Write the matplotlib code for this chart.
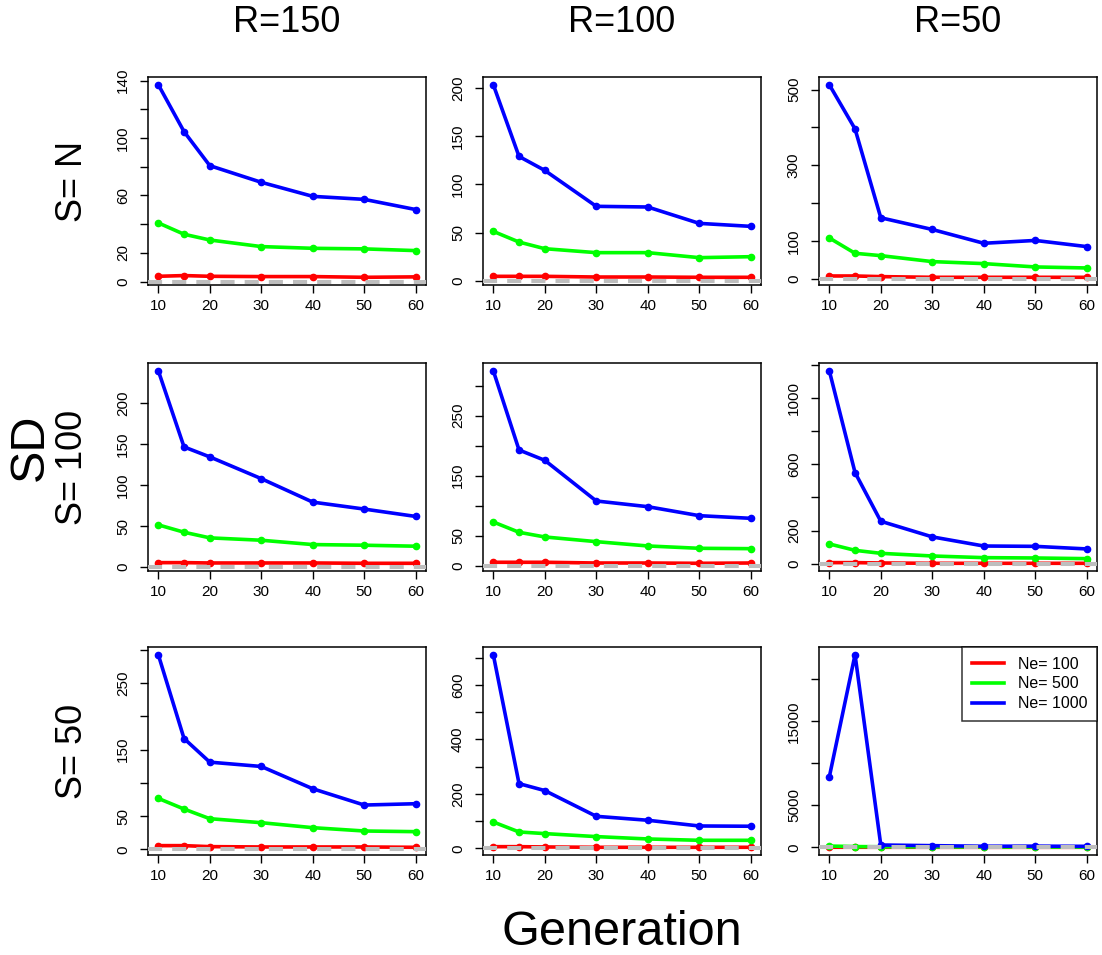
import numpy as np
import matplotlib
matplotlib.use("Agg")
import matplotlib.pyplot as plt

plt.rcParams['font.family'] = ['Liberation Sans', 'DejaVu Sans']

gens = [10, 15, 20, 30, 40, 50, 60]
col_titles = ["R=150", "R=100", "R=50"]
row_titles = ["S= N", "S= 100", "S= 50"]
legend_labels = ["Ne= 100", "Ne= 500", "Ne= 1000"]

# rows: S = N, 100, 50 ; cols: R = 150, 100, 50
ne100 = [
    [[3.7, 4.2, 3.7, 3.5, 3.5, 3.0, 3.3],
     [4.5, 4.5, 4.5, 3.8, 3.8, 3.5, 3.5],
     [7, 7, 5.3, 3.5, 3.5, 3.5, 3.5]],
    [[5.3, 5.3, 4.9, 4.9, 4.9, 4.5, 4.5],
     [5.6, 5.6, 5.6, 4.4, 4.4, 3.9, 4.4],
     [8, 8, 6, 4, 4, 4, 4]],
    [[5.5, 5.5, 4, 3.5, 3.5, 3.5, 3],
     [6, 6, 5, 3.7, 3.7, 3.7, 3.7],
     [10, 8, 6, 4, 4, 4, 4]],
]
ne500 = [
    [[40.9, 33.0, 29.0, 24.4, 23.2, 22.8, 21.6],
     [51.2, 40.1, 33.2, 29.1, 29.1, 23.9, 24.9],
     [107.6, 67, 60.8, 45, 39.7, 30.9, 28.2]],
    [[51.5, 42.5, 35.6, 32.7, 27.4, 26.6, 25.4],
     [72.8, 55.6, 47.8, 40, 32.8, 28.9, 28.3],
     [120.5, 82, 64, 48, 38, 36, 32]],
    [[76.5, 60.5, 46, 40, 32.5, 27.5, 26.5],
     [96.7, 60, 54, 43, 34.3, 29.4, 29.4],
     [150, 90, 70, 50, 40, 35, 30]],
]
ne1000 = [
    [[137.2, 104.5, 80.8, 69.2, 59.4, 57.3, 50.2],
     [203.5, 129, 114.5, 77.2, 76.5, 59.5, 56.4],
     [513, 396, 161, 130, 93.5, 101, 84.7]],
    [[240, 146.8, 134.6, 108, 79.3, 70.8, 61.8],
     [325, 192.8, 175.6, 107.8, 98.3, 83.3, 78.9],
     [1163, 550, 257, 163, 108, 106, 90.4]],
    [[292.5, 166.5, 131, 124.5, 91, 66.5, 68.5],
     [711, 237.5, 212, 117.5, 103, 82, 81],
     [8373, 22937, 278, 198, 130, 140, 120]],
]

# y tick step and labels (R drops labels that would overlap)
ytick_step = [[20, 50, 100], [50, 50, 200], [50, 100, 5000]]
ytick_labels = [
    [['0', '20', '', '60', '', '100', '', '140'],
     ['0', '50', '100', '150', '200'],
     ['0', '100', '', '300', '', '500']],
    [['0', '50', '100', '150', '200'],
     ['0', '50', '', '150', '', '250', ''],
     ['0', '200', '', '600', '', '1000', '']],
    [['0', '50', '', '150', '', '250', ''],
     ['0', '', '200', '', '400', '', '600', ''],
     ['0', '5000', '', '15000', '']],
]
xticks = [10, 20, 30, 40, 50, 60]

W, H = 1102, 955
fig = plt.figure(figsize=(W / 100, H / 100), dpi=100)

lefts = [148, 483, 819]
tops = [77, 363, 647]
pw, ph = 278, 208
colors = ['#FF0000', '#00FF00', '#0000FF']

for i in range(3):
    for j in range(3):
        ax = fig.add_axes([lefts[j] / W, 1 - (tops[i] + ph) / H, pw / W, ph / H])
        series = [ne100[i][j], ne500[i][j], ne1000[i][j]]
        for s, c, lab in zip(series, colors, legend_labels):
            ax.plot(gens, s, color=c, lw=2.6, marker='o', ms=4.5, label=lab, zorder=3)
        ax.axhline(0, color='#BEBEBE', lw=2.9, ls=(0, (3.5, 2.5)), zorder=4)

        allv = np.concatenate(series)
        lo, hi = allv.min(), allv.max()
        d = hi - lo
        ax.set_ylim(lo - 0.04 * d, hi + 0.04 * d)
        ax.set_xlim(10 - 0.04 * 50, 60 + 0.04 * 50)

        labs = ytick_labels[i][j]
        ax.set_yticks([k * ytick_step[i][j] for k in range(len(labs))], labs,
                      rotation=90, va='center')
        ax.set_xticks(xticks)
        ax.tick_params(labelsize=11, length=6, width=1, direction='out', pad=4)
        ax.tick_params(axis='y', pad=7)
        for sp in ax.spines.values():
            sp.set_linewidth(1.1)

        if i == 2 and j == 2:
            leg = ax.legend(loc='upper right', fontsize=11.5, frameon=True, fancybox=False,
                            edgecolor='black', borderaxespad=0, handlelength=2.0,
                            handletextpad=0.9, labelspacing=0.3, borderpad=0.6)
            leg.get_frame().set_linewidth(1.1)
            for h in leg.legend_handles:
                h.set_marker('')

for j, t in enumerate(col_titles):
    fig.text((lefts[j] + pw / 2) / W, 1 - 23 / H, t, ha='center', va='center', fontsize=26)
for i, t in enumerate(row_titles):
    fig.text(73 / W, 1 - (tops[i] + ph / 2) / H, t, ha='center', va='center',
             rotation=90, fontsize=26)
fig.text(30 / W, 1 - 447 / H, "SD", ha='center', va='center', rotation=90, fontsize=35)
fig.text(622 / W, 1 - 932 / H, "Generation", ha='center', va='center', fontsize=35)

fig.savefig("out.png", dpi=100)
